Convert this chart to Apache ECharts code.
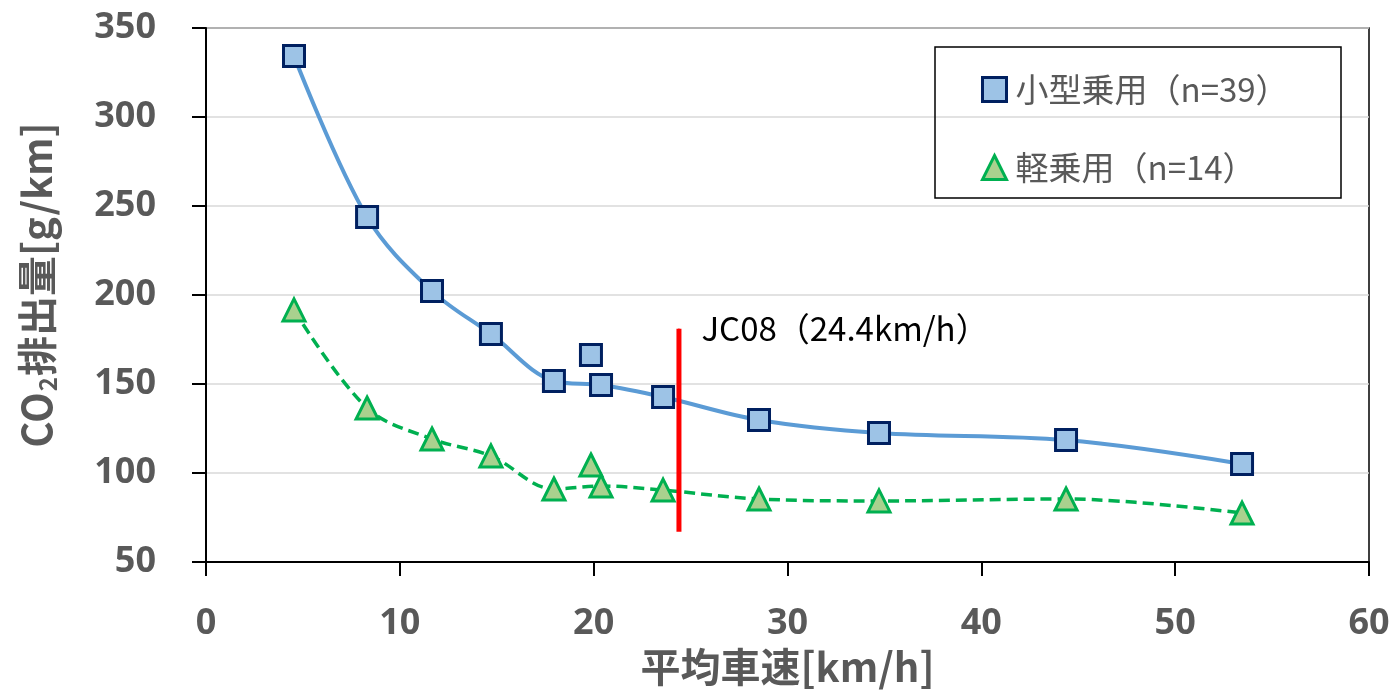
<!DOCTYPE html>
<html>
<head>
<meta charset="utf-8">
<script src="https://cdn.jsdelivr.net/npm/echarts@6/dist/echarts.min.js"></script>
<style>
  html, body { margin: 0; padding: 0; background: #fff; }
  #chart { width: 1395px; height: 694px; }
</style>
</head>
<body>
<div id="chart"></div>
<script>
// Average speed [km/h] of each driving cycle
const speeds = [4.54, 8.31, 11.66, 14.70, 17.95, 20.38, 23.58, 28.53, 34.72, 44.37, 53.45];
// CO2 emissions [g/km], small passenger cars (n=39)
const co2Small = [334.3, 243.8, 202.2, 178.1, 151.7, 149.4, 142.7, 129.8, 122.5, 118.5, 105.1];
// CO2 emissions [g/km], kei passenger cars (n=14)
const co2Kei = [191.6, 136.5, 119.1, 109.6, 91.0, 92.7, 90.4, 85.4, 84.3, 85.4, 77.5];
// Extra cycle plotted without the trend line
const extraSpeed = 19.86;
const extraSmall = 166.3;
const extraKei = 104.5;
// JC08 mode average speed and the extent of its marker line
const jc08Speed = 24.4;
const jc08Range = [67, 181];

const seriesNames = ['小型乗用（n=39）', '軽乗用（n=14）'];
const xTicks = [0, 10, 20, 30, 40, 50, 60];
const yTicks = [50, 100, 150, 200, 250, 300, 350];

const gray = '#595959';
const numFont = '"Noto Sans", "Noto Sans CJK JP", sans-serif';
const jpFont = '"Noto Sans CJK JP", "Noto Sans", sans-serif';

const squareStyle = { color: '#9DC3E6', borderColor: '#002060', borderWidth: 3, opacity: 1 };
const triStyle = { color: '#A9D18E', borderColor: '#00B050', borderWidth: 3, opacity: 1 };

const pair = (xs, ys) => xs.map((x, i) => [x, ys[i]]);

const chart = echarts.init(document.getElementById('chart'), null, { renderer: 'canvas' });

chart.setOption({
  animation: false,
  backgroundColor: '#fff',
  grid: {
    left: 206, right: 26, top: 28, bottom: 132,
    show: true, borderColor: '#000', borderWidth: 1.5, backgroundColor: 'transparent'
  },
  graphic: [{
    type: 'rect',
    z: 5,
    shape: { x: 935, y: 47, width: 406, height: 151 },
    style: { fill: 'rgba(0,0,0,0)', stroke: '#000', lineWidth: 1.5 }
  }],
  legend: {
    orient: 'vertical',
    left: 976, top: 68,
    itemWidth: 24, itemHeight: 24,
    itemGap: 45,
    textStyle: { fontFamily: jpFont, fontSize: 33, color: gray, lineHeight: 30, padding: [0, 0, 0, 4] },
    data: [
      { name: seriesNames[0], icon: 'rect', itemStyle: squareStyle },
      { name: seriesNames[1], icon: 'triangle', itemStyle: triStyle }
    ]
  },
  xAxis: {
    type: 'value',
    min: xTicks[0], max: xTicks[xTicks.length - 1], interval: 10,
    name: '平均車速[km/h]',
    nameLocation: 'middle',
    nameGap: 84,
    nameTextStyle: { fontFamily: jpFont, fontSize: 40, fontWeight: 'bold', color: gray },
    axisLine: { show: true, lineStyle: { color: '#000', width: 2 } },
    axisTick: { show: true, inside: false, length: 14, lineStyle: { color: '#000', width: 2 } },
    axisLabel: { margin: 44, fontFamily: numFont, fontSize: 36, fontWeight: 'bold', color: gray },
    splitLine: { show: false }
  },
  yAxis: {
    type: 'value',
    min: yTicks[0], max: yTicks[yTicks.length - 1], interval: 50,
    name: '{a|CO}{s|2}{a|排出量[g/km]}',
    nameLocation: 'middle',
    nameGap: 146,
    nameTextStyle: {
      padding: [0, 0, 0, 20],
      rich: {
        a: { fontFamily: jpFont, fontSize: 40, fontWeight: 'bold', color: gray, lineHeight: 46 },
        s: { fontFamily: jpFont, fontSize: 24, fontWeight: 'bold', color: gray, lineHeight: 46, verticalAlign: 'bottom', padding: [16, 1, 0, 1] }
      }
    },
    axisLine: { show: true, lineStyle: { color: '#000', width: 2 } },
    axisTick: { show: true, inside: false, length: 14, lineStyle: { color: '#000', width: 2 } },
    axisLabel: { margin: 50, fontFamily: numFont, fontSize: 36, fontWeight: 'bold', color: gray },
    splitLine: { show: true, lineStyle: { color: '#D9D9D9', width: 1.5 } }
  },
  series: [
    {
      name: seriesNames[0],
      type: 'line',
      smooth: 0.35,
      z: 3,
      data: pair(speeds, co2Small),
      symbol: 'rect',
      symbolSize: 21,
      itemStyle: squareStyle,
      lineStyle: { color: '#5B9BD5', width: 4 }
    },
    {
      name: seriesNames[0],
      type: 'scatter',
      z: 4,
      data: [[extraSpeed, extraSmall]],
      symbol: 'rect',
      symbolSize: 21,
      itemStyle: squareStyle
    },
    {
      name: seriesNames[1],
      type: 'line',
      smooth: 0.35,
      z: 3,
      data: pair(speeds, co2Kei),
      symbol: 'triangle',
      symbolSize: 22,
      itemStyle: triStyle,
      lineStyle: { color: '#00B050', width: 3.5, type: [11, 6] }
    },
    {
      name: seriesNames[1],
      type: 'scatter',
      z: 4,
      data: [[extraSpeed, extraKei]],
      symbol: 'triangle',
      symbolSize: 22,
      itemStyle: triStyle
    },
    {
      // JC08 mode marker line
      name: 'JC08',
      type: 'line',
      z: 3.5,
      symbol: 'none',
      silent: true,
      lineStyle: { color: '#FF0000', width: 5 },
      data: [[jc08Speed, jc08Range[0]], [jc08Speed, jc08Range[1]]]
    },
    {
      // JC08 caption at the top of the marker line
      name: 'JC08 label',
      type: 'scatter',
      z: 6,
      silent: true,
      symbol: 'circle',
      symbolSize: 1,
      itemStyle: { color: '#FF0000', opacity: 1 },
      data: [[jc08Speed, jc08Range[1]]],
      label: {
        show: true,
        position: 'right',
        distance: 22,
        formatter: 'JC08（' + jc08Speed + 'km/h）',
        fontFamily: jpFont,
        fontSize: 33,
        color: '#000'
      }
    }
  ]
});
</script>
</body>
</html>
